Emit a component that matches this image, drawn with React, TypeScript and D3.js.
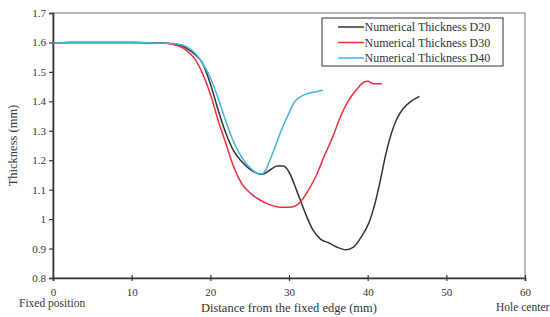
import { useEffect, useRef } from "react";
import * as d3 from "d3";

// distance from the fixed edge (mm) / thickness (mm)
const d20X = [0, 2, 5, 10, 14, 16, 17, 18, 19, 20, 21, 22, 23, 24, 25, 26, 26.6, 27.5, 28.5, 29.3, 30, 31, 32, 33, 34, 35, 36, 37.2, 38.2, 39.2, 40.2, 40.9, 41.6, 42.3, 43, 43.7, 44.5, 45.5, 46.6];
const d20Y = [1.598, 1.6, 1.6, 1.6, 1.598, 1.592, 1.58, 1.56, 1.53, 1.46, 1.37, 1.29, 1.23, 1.195, 1.17, 1.155, 1.152, 1.165, 1.18, 1.18, 1.16, 1.095, 1.025, 0.965, 0.932, 0.92, 0.906, 0.896, 0.905, 0.94, 0.99, 1.05, 1.13, 1.22, 1.29, 1.34, 1.375, 1.4, 1.417];

const d30X = [0, 2, 5, 10, 14, 16, 17, 18, 19, 20, 21, 22, 23, 24, 25, 26, 27, 28, 29, 30, 30.8, 31.5, 32.5, 33.5, 34.5, 35.5, 36.5, 37.5, 38.6, 39.5, 40, 40.7, 41.8];
const d30Y = [1.598, 1.6, 1.6, 1.6, 1.598, 1.588, 1.572, 1.545, 1.495, 1.425, 1.335, 1.255, 1.175, 1.12, 1.09, 1.07, 1.055, 1.045, 1.04, 1.04, 1.045, 1.06, 1.1, 1.15, 1.215, 1.275, 1.345, 1.4, 1.44, 1.465, 1.468, 1.46, 1.46];

const d40X = [0, 2, 5, 10, 14, 16, 17, 18, 19, 20, 21, 22, 23, 24, 25, 26, 26.5, 27, 27.5, 28.3, 29, 30, 30.7, 31.3, 32.2, 33.3, 34.3];
const d40Y = [1.598, 1.6, 1.6, 1.6, 1.598, 1.594, 1.585, 1.565, 1.53, 1.48, 1.41, 1.33, 1.26, 1.21, 1.175, 1.155, 1.153, 1.165, 1.195, 1.25, 1.3, 1.36, 1.398, 1.413, 1.425, 1.432, 1.438];

const seriesNames = ["Numerical Thickness D20", "Numerical Thickness D30", "Numerical Thickness D40"];
const seriesColors = ["#333333", "#ec2f3b", "#3db4e2"];
const xTicks = [0, 10, 20, 30, 40, 50, 60];
const yTicks = [0.8, 0.9, 1, 1.1, 1.2, 1.3, 1.4, 1.5, 1.6, 1.7];

export default function App() {
  const svgRef = useRef(null);

  useEffect(() => {
    const svg = d3.select(svgRef.current);
    svg.selectAll("*").remove();

    const left = 53, right = 525, top = 13, bottom = 278;
    const x = d3.scaleLinear().domain([0, 60]).range([left, right]);
    const y = d3.scaleLinear().domain([0.8, 1.7]).range([bottom, top]);
    const font = "'Liberation Serif', 'Times New Roman', serif";

    // frame
    svg.append("rect")
      .attr("x", left).attr("y", top)
      .attr("width", right - left).attr("height", bottom - top)
      .attr("fill", "none").attr("stroke", "#8a8a8a").attr("stroke-width", 1.2);

    // axes
    const yAxis = svg.append("g")
      .attr("transform", `translate(${left},0)`)
      .call(d3.axisLeft(y).tickValues(yTicks).tickSize(4).tickFormat(d3.format("")));
    const xAxis = svg.append("g")
      .attr("transform", `translate(0,${bottom})`)
      .call(d3.axisBottom(x).tickValues(xTicks).tickSize(3).tickFormat(d3.format("")));

    [yAxis, xAxis].forEach((g) => {
      g.select(".domain").attr("stroke", "#333").attr("stroke-width", 1.6);
      g.selectAll(".tick line").attr("stroke", "#333").attr("stroke-width", 1.2);
      g.selectAll(".tick text").attr("fill", "#333").style("font-family", font).style("font-size", "11px");
    });
    xAxis.selectAll(".tick line").attr("y1", -3);
    xAxis.selectAll(".tick text").attr("dy", "1.05em");

    // lines
    const line = d3.line<[number, number]>()
      .x((d) => x(d[0]))
      .y((d) => y(d[1]))
      .curve(d3.curveMonotoneX);

    const all = [[d20X, d20Y], [d30X, d30Y], [d40X, d40Y]];
    all.forEach(([xs, ys], i) => {
      const pts = xs.map((v, j) => [v, ys[j]] as [number, number]);
      svg.append("path")
        .attr("d", line(pts))
        .attr("fill", "none")
        .attr("stroke", seriesColors[i])
        .attr("stroke-width", 1.5);
    });

    // legend
    const lg = svg.append("g");
    lg.append("rect")
      .attr("x", 322).attr("y", 18).attr("width", 181).attr("height", 48)
      .attr("fill", "#fff").attr("stroke", "#333").attr("stroke-width", 1);
    seriesNames.forEach((name, i) => {
      const ly = 27 + i * 15.5;
      lg.append("line")
        .attr("x1", 338).attr("x2", 364).attr("y1", ly).attr("y2", ly)
        .attr("stroke", seriesColors[i]).attr("stroke-width", 1.5);
      lg.append("text")
        .attr("x", 364.5).attr("y", ly + 4)
        .attr("fill", "#333")
        .style("font-family", font).style("font-size", "12px")
        .text(name);
    });

    // titles
    svg.append("text")
      .attr("transform", `translate(17,${(top + bottom) / 2}) rotate(-90)`)
      .attr("text-anchor", "middle")
      .attr("fill", "#333")
      .style("font-family", font).style("font-size", "12.5px")
      .text("Thickness (mm)");
    svg.append("text")
      .attr("x", 289).attr("y", 312)
      .attr("text-anchor", "middle")
      .attr("fill", "#333")
      .style("font-family", font).style("font-size", "12.5px")
      .text("Distance from the fixed edge (mm)");
    svg.append("text")
      .attr("x", 19).attr("y", 307)
      .attr("fill", "#333")
      .style("font-family", font).style("font-size", "11.5px")
      .text("Fixed position");
    svg.append("text")
      .attr("x", 496).attr("y", 311)
      .attr("fill", "#333")
      .style("font-family", font).style("font-size", "11.5px")
      .text("Hole center");
  }, []);

  return (
    <svg
      ref={svgRef}
      width={550}
      height={317}
      style={{ position: "absolute", left: 0, top: 0, background: "#fff" }}
    ></svg>
  );
}
